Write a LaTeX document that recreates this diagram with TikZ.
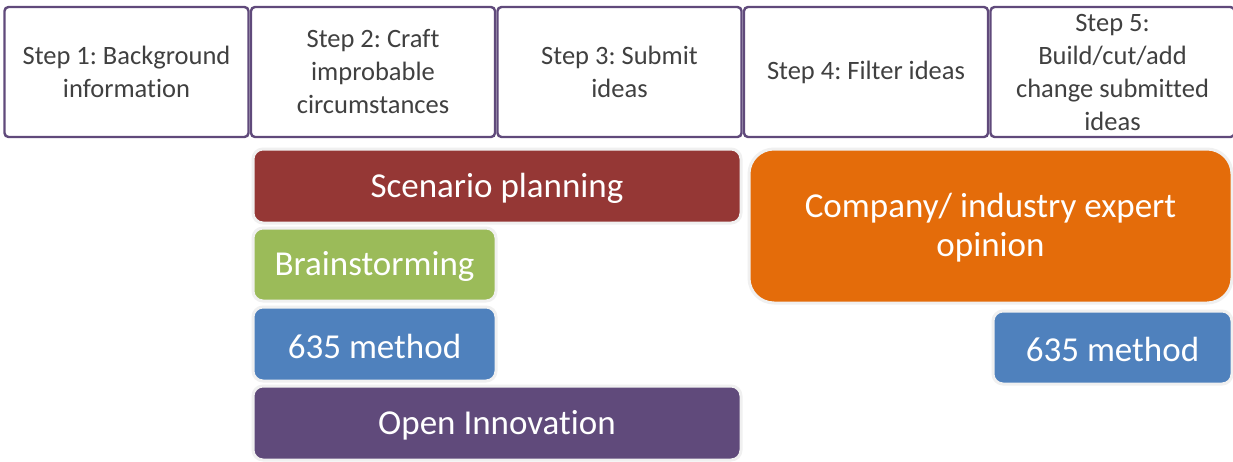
\documentclass[tikz,border=0pt]{standalone}
\usepackage{fontspec}
\setmainfont{Carlito}[Ligatures={NoCommon}]
\frenchspacing
\definecolor{stepborder}{HTML}{604A7B}
\definecolor{steptext}{HTML}{404040}
\definecolor{cscen}{HTML}{953735}
\definecolor{cbrain}{HTML}{9BBB59}
\definecolor{cblue}{HTML}{4F81BD}
\definecolor{copen}{HTML}{604A7B}
\definecolor{corange}{HTML}{E46C0A}
\definecolor{glow}{HTML}{F0F0F0}
\begin{document}
\begin{tikzpicture}[x=1pt,y=-1pt,
  stepbox/.style={draw=stepborder, line width=2.4pt, rounded corners=4pt, fill=white,
    minimum width=244pt, minimum height=130pt, inner sep=0pt, align=center,
    text=steptext, font=\fontsize{26.5}{33}\selectfont},
  toolbox/.style={draw=glow, line width=3pt, rounded corners=10pt, inner sep=0pt},
  tooltext/.style={inner sep=0pt, align=center, text=white, font=\fontsize{35}{39}\selectfont}]
\useasboundingbox (0,0) rectangle (1233,461);
\fill[white] (0,0) rectangle (1233,461);
\node[stepbox] (s1) at (126.5,72) {Step 1: Background\\information};
\node[stepbox] (s2) at (373,72) {Step 2: Craft\\improbable\\circumstances};
\node[stepbox] (s3) at (619.5,72) {Step 3: Submit\\ideas};
\node[stepbox] (s4) at (866,72) {Step 4: Filter ideas};
\node[stepbox] (s5) at (1112.5,72) {Step 5:\\Build/cut/add\\change submitted\\ideas};
\node[toolbox, fill=cscen, minimum width=488pt, minimum height=74pt] (scen) at (497,186) {};
\node[tooltext] (scent) at ([yshift=-2pt]scen.center) {Scenario planning};
\node[toolbox, fill=cbrain, minimum width=243pt, minimum height=73pt] (brain) at (374.5,264.5) {};
\node[tooltext] (braint) at ([yshift=-2pt]brain.center) {Brainstorming};
\node[toolbox, fill=cblue, minimum width=243pt, minimum height=74pt] (m635a) at (374.5,344) {};
\node[tooltext] (m635at) at ([yshift=-2pt]m635a.center) {635 method};
\node[toolbox, fill=copen, minimum width=488pt, minimum height=74pt] (open) at (497,423) {};
\node[tooltext] (opent) at ([yshift=-2pt]open.center) {Open Innovation};
\node[toolbox, fill=corange, rounded corners=25pt, minimum width=483pt, minimum height=154pt] (comp) at (990.5,226) {};
\node[tooltext] (compt) at ([yshift=-2pt]comp.center) {Company/ industry expert\\opinion};
\node[toolbox, fill=cblue, minimum width=239pt, minimum height=73pt] (m635b) at (1112.5,347.5) {};
\node[tooltext] (m635bt) at ([yshift=-2pt]m635b.center) {635 method};
\end{tikzpicture}
\end{document}
